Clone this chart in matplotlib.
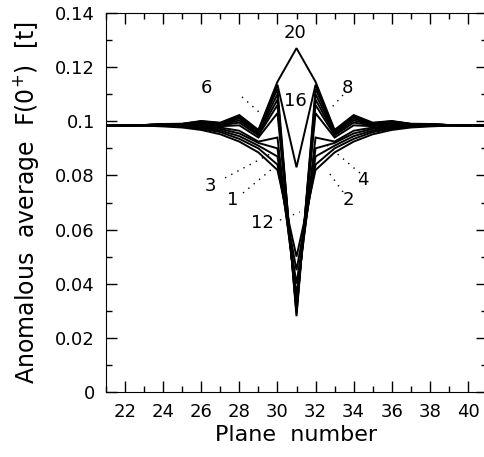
import numpy as np
import matplotlib
matplotlib.use("Agg")
import matplotlib.pyplot as plt
from matplotlib.ticker import MultipleLocator

# plane numbers 21..41, centre plane 31
planes = np.arange(21, 42)

# profile values vs distance from plane 31 (d = 0..10), curves are symmetric
c1 = [0.050, 0.082, 0.0885, 0.0925, 0.0952, 0.0968, 0.0977, 0.0981, 0.0984, 0.0985, 0.0985]
c2 = [0.045, 0.084, 0.0900, 0.0935, 0.0960, 0.0973, 0.0980, 0.0983, 0.0985, 0.0985, 0.0985]
c3 = [0.040, 0.087, 0.0910, 0.0945, 0.0966, 0.0977, 0.0982, 0.0984, 0.0985, 0.0985, 0.0985]
c4 = [0.036, 0.090, 0.0920, 0.0955, 0.0972, 0.0980, 0.0983, 0.0985, 0.0985, 0.0985, 0.0985]
c5 = [0.034, 0.094, 0.0925, 0.0965, 0.0977, 0.0983, 0.0985, 0.0985, 0.0985, 0.0985, 0.0985]
c6 = [0.032, 0.103, 0.0940, 0.0985, 0.0982, 0.0988, 0.0986, 0.0986, 0.0985, 0.0985, 0.0985]
c7 = [0.031, 0.106, 0.0948, 0.0995, 0.0985, 0.0992, 0.0987, 0.0987, 0.0986, 0.0985, 0.0985]
c8 = [0.030, 0.108, 0.0953, 0.1003, 0.0987, 0.0995, 0.0988, 0.0988, 0.0986, 0.0985, 0.0985]
c10 = [0.029, 0.110, 0.0958, 0.1010, 0.0989, 0.0997, 0.0989, 0.0989, 0.0986, 0.0985, 0.0985]
c12 = [0.028, 0.112, 0.0962, 0.1016, 0.0991, 0.0999, 0.0990, 0.0989, 0.0986, 0.0985, 0.0985]
c16 = [0.083, 0.1135, 0.0966, 0.1020, 0.0993, 0.1000, 0.0990, 0.0990, 0.0986, 0.0985, 0.0985]
c20 = [0.127, 0.1146, 0.0968, 0.1023, 0.0995, 0.1001, 0.0991, 0.0990, 0.0986, 0.0985, 0.0985]
curves = [c1, c2, c3, c4, c5, c6, c7, c8, c10, c12, c16, c20]

# curve labels and their leader lines (data coords)
labels = ["20", "6", "16", "8", "3", "1", "4", "2", "12"]
label_xy = [(30.92, 0.1326), (26.25, 0.1123), (30.92, 0.1075), (33.7, 0.1123),
            (26.5, 0.0761), (27.67, 0.0709), (34.5, 0.0783), (33.7, 0.0709), (29.2, 0.0624)]
leaders = [None, ((28.14, 0.1090), (29.08, 0.1031)), None, ((33.44, 0.1097), (32.86, 0.1052)),
           ((27.25, 0.0791), (29.71, 0.0883)), ((28.19, 0.0735), (29.77, 0.0827)),
           ((34.33, 0.0809), (32.6, 0.0912)), ((33.44, 0.0739), (32.6, 0.0820)),
           ((30.13, 0.0635), (31.18, 0.0665))]


def full_profile(half):
    d = np.abs(planes - 31)
    return np.array(half)[d]


fig = plt.figure(figsize=(4.84, 4.57), dpi=100)
ax = fig.add_axes([106 / 484, 65 / 457, 381 / 484, 379 / 457])

for c in curves:
    ax.plot(planes, full_profile(c), color="black", lw=1.4, solid_joinstyle="miter")

for txt, (x, y), ld in zip(labels, label_xy, leaders):
    ax.text(x, y, txt, ha="center", va="center", fontsize=13)
    if ld is not None:
        ax.plot([ld[0][0], ld[1][0]], [ld[0][1], ld[1][1]], color="black",
                lw=1.0, linestyle=(0, (1, 4)))

ax.set_xlim(21, 41)
ax.set_ylim(0, 0.14)
ax.xaxis.set_major_locator(MultipleLocator(2))
ax.xaxis.set_minor_locator(MultipleLocator(1))
ax.yaxis.set_major_locator(MultipleLocator(0.02))
ax.yaxis.set_minor_locator(MultipleLocator(0.01))
ax.tick_params(which="both", direction="in", top=True, right=True, labelsize=13)
ax.tick_params(which="major", length=8, width=1)
ax.tick_params(which="minor", length=4.5, width=1)
ax.set_xticks(np.arange(22, 41, 2))
ax.set_yticks([0, 0.02, 0.04, 0.06, 0.08, 0.1, 0.12, 0.14])
ax.set_yticklabels(["0", "0.02", "0.04", "0.06", "0.08", "0.1", "0.12", "0.14"])
ax.tick_params(axis="x", pad=8)
ax.tick_params(axis="y", pad=8)

ax.set_xlabel("Plane  number", fontsize=16, labelpad=3)
ax.set_ylabel("Anomalous  average  F(0$^{+}$)  [t]", fontsize=17, labelpad=10)

fig.savefig("out.png", dpi=100)
